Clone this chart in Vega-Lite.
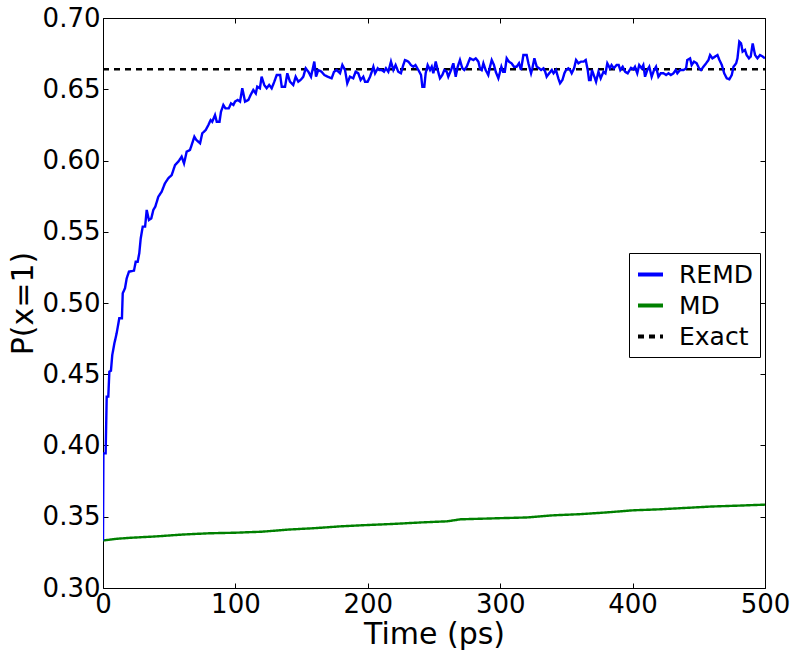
{
  "$schema": "https://vega.github.io/schema/vega-lite/v6.json",
  "width": 662,
  "height": 570,
  "autosize": "none",
  "padding": {"left": 103, "top": 18, "right": 35, "bottom": 69},
  "background": "white",
  "config": {
    "font": "DejaVu Sans",
    "view": {"stroke": "black", "strokeWidth": 1},
    "axis": {
      "domain": false,
      "grid": false,
      "tickColor": "black",
      "tickSize": -5,
      "tickWidth": 1,
      "labelColor": "black",
      "labelFont": "DejaVu Sans",
      "labelFontSize": 26,
      "labelPadding": 8,
      "labelOverlap": false,
      "labelFlush": false,
      "titleFont": "DejaVu Sans",
      "titleFontSize": 30,
      "titleFontWeight": "normal",
      "titleColor": "black"
    }
  },
  "data": {
    "values": [
      {"series": "Exact", "time": 0, "p": 0.664},
      {"series": "Exact", "time": 500, "p": 0.664},
      {"series": "MD", "time": 0, "p": 0.3333},
      {"series": "MD", "time": 10, "p": 0.3345},
      {"series": "MD", "time": 20, "p": 0.3352},
      {"series": "MD", "time": 40, "p": 0.3362},
      {"series": "MD", "time": 60, "p": 0.3375},
      {"series": "MD", "time": 80, "p": 0.3384},
      {"series": "MD", "time": 100, "p": 0.3388},
      {"series": "MD", "time": 120, "p": 0.3395},
      {"series": "MD", "time": 140, "p": 0.341},
      {"series": "MD", "time": 160, "p": 0.342},
      {"series": "MD", "time": 180, "p": 0.3433},
      {"series": "MD", "time": 200, "p": 0.3442},
      {"series": "MD", "time": 220, "p": 0.345},
      {"series": "MD", "time": 240, "p": 0.346},
      {"series": "MD", "time": 260, "p": 0.3468},
      {"series": "MD", "time": 270, "p": 0.3482},
      {"series": "MD", "time": 300, "p": 0.349},
      {"series": "MD", "time": 320, "p": 0.3495},
      {"series": "MD", "time": 340, "p": 0.351},
      {"series": "MD", "time": 360, "p": 0.3518},
      {"series": "MD", "time": 380, "p": 0.353},
      {"series": "MD", "time": 400, "p": 0.3545},
      {"series": "MD", "time": 420, "p": 0.3552},
      {"series": "MD", "time": 440, "p": 0.3562},
      {"series": "MD", "time": 460, "p": 0.3572},
      {"series": "MD", "time": 480, "p": 0.3578},
      {"series": "MD", "time": 500, "p": 0.3585},
      {"series": "REMD", "time": 0, "p": 0.3333},
      {"series": "REMD", "time": 0.3, "p": 0.3945},
      {"series": "REMD", "time": 2, "p": 0.3945},
      {"series": "REMD", "time": 2.8, "p": 0.4343},
      {"series": "REMD", "time": 4, "p": 0.4343},
      {"series": "REMD", "time": 4.8, "p": 0.4518},
      {"series": "REMD", "time": 6, "p": 0.4525},
      {"series": "REMD", "time": 7, "p": 0.4635},
      {"series": "REMD", "time": 8.6, "p": 0.4717},
      {"series": "REMD", "time": 10.3, "p": 0.4787},
      {"series": "REMD", "time": 12.3, "p": 0.4893},
      {"series": "REMD", "time": 14.3, "p": 0.4893},
      {"series": "REMD", "time": 14.9, "p": 0.5068},
      {"series": "REMD", "time": 16.6, "p": 0.5103},
      {"series": "REMD", "time": 17.9, "p": 0.5173},
      {"series": "REMD", "time": 19.6, "p": 0.522},
      {"series": "REMD", "time": 23.4, "p": 0.5227},
      {"series": "REMD", "time": 24.7, "p": 0.529},
      {"series": "REMD", "time": 26.2, "p": 0.529},
      {"series": "REMD", "time": 27.4, "p": 0.5349},
      {"series": "REMD", "time": 28.5, "p": 0.5454},
      {"series": "REMD", "time": 30, "p": 0.5536},
      {"series": "REMD", "time": 31.8, "p": 0.5536},
      {"series": "REMD", "time": 33, "p": 0.5653},
      {"series": "REMD", "time": 34.7, "p": 0.5582},
      {"series": "REMD", "time": 36.5, "p": 0.5594},
      {"series": "REMD", "time": 38, "p": 0.5653},
      {"series": "REMD", "time": 39.5, "p": 0.5676},
      {"series": "REMD", "time": 41.8, "p": 0.5746},
      {"series": "REMD", "time": 44.3, "p": 0.5781},
      {"series": "REMD", "time": 46.8, "p": 0.584},
      {"series": "REMD", "time": 49.3, "p": 0.5875},
      {"series": "REMD", "time": 51.9, "p": 0.5898},
      {"series": "REMD", "time": 54.4, "p": 0.5968},
      {"series": "REMD", "time": 56.9, "p": 0.5992},
      {"series": "REMD", "time": 59.4, "p": 0.6027},
      {"series": "REMD", "time": 61.2, "p": 0.598},
      {"series": "REMD", "time": 63.2, "p": 0.6062},
      {"series": "REMD", "time": 65.7, "p": 0.6074},
      {"series": "REMD", "time": 67, "p": 0.611},
      {"series": "REMD", "time": 69, "p": 0.6167},
      {"series": "REMD", "time": 70.5, "p": 0.6144},
      {"series": "REMD", "time": 73.3, "p": 0.6121},
      {"series": "REMD", "time": 75, "p": 0.6191},
      {"series": "REMD", "time": 77.6, "p": 0.6214},
      {"series": "REMD", "time": 79.6, "p": 0.6249},
      {"series": "REMD", "time": 81.3, "p": 0.6284},
      {"series": "REMD", "time": 82.5, "p": 0.6272},
      {"series": "REMD", "time": 84.6, "p": 0.6319},
      {"series": "REMD", "time": 85.9, "p": 0.6272},
      {"series": "REMD", "time": 88, "p": 0.6272},
      {"series": "REMD", "time": 89.1, "p": 0.6342},
      {"series": "REMD", "time": 90.9, "p": 0.6389},
      {"series": "REMD", "time": 92.5, "p": 0.6366},
      {"series": "REMD", "time": 95, "p": 0.6366},
      {"series": "REMD", "time": 96.7, "p": 0.6401},
      {"series": "REMD", "time": 98.5, "p": 0.639},
      {"series": "REMD", "time": 99.7, "p": 0.6413},
      {"series": "REMD", "time": 101.7, "p": 0.6425},
      {"series": "REMD", "time": 103.5, "p": 0.6413},
      {"series": "REMD", "time": 105.2, "p": 0.6507},
      {"series": "REMD", "time": 107.3, "p": 0.6413},
      {"series": "REMD", "time": 109.8, "p": 0.6425},
      {"series": "REMD", "time": 111.5, "p": 0.646},
      {"series": "REMD", "time": 113.5, "p": 0.6495},
      {"series": "REMD", "time": 115.4, "p": 0.6471},
      {"series": "REMD", "time": 116.5, "p": 0.6518},
      {"series": "REMD", "time": 118.5, "p": 0.6507},
      {"series": "REMD", "time": 119.8, "p": 0.6588},
      {"series": "REMD", "time": 121.8, "p": 0.653},
      {"series": "REMD", "time": 123.6, "p": 0.6507},
      {"series": "REMD", "time": 125.5, "p": 0.653},
      {"series": "REMD", "time": 127.4, "p": 0.6507},
      {"series": "REMD", "time": 129.4, "p": 0.6553},
      {"series": "REMD", "time": 131.2, "p": 0.66},
      {"series": "REMD", "time": 133.8, "p": 0.66},
      {"series": "REMD", "time": 135, "p": 0.6518},
      {"series": "REMD", "time": 137.5, "p": 0.6518},
      {"series": "REMD", "time": 139.2, "p": 0.6612},
      {"series": "REMD", "time": 141.2, "p": 0.6553},
      {"series": "REMD", "time": 143.7, "p": 0.653},
      {"series": "REMD", "time": 145.5, "p": 0.6588},
      {"series": "REMD", "time": 147.5, "p": 0.6553},
      {"series": "REMD", "time": 149.2, "p": 0.6565},
      {"series": "REMD", "time": 151.3, "p": 0.6588},
      {"series": "REMD", "time": 153.1, "p": 0.6647},
      {"series": "REMD", "time": 155.1, "p": 0.6623},
      {"series": "REMD", "time": 157.1, "p": 0.6588},
      {"series": "REMD", "time": 159.6, "p": 0.6694},
      {"series": "REMD", "time": 160.9, "p": 0.6588},
      {"series": "REMD", "time": 162.6, "p": 0.6635},
      {"series": "REMD", "time": 165.1, "p": 0.6623},
      {"series": "REMD", "time": 167.2, "p": 0.66},
      {"series": "REMD", "time": 169.7, "p": 0.6588},
      {"series": "REMD", "time": 172.7, "p": 0.6577},
      {"series": "REMD", "time": 174.5, "p": 0.6623},
      {"series": "REMD", "time": 176.5, "p": 0.6635},
      {"series": "REMD", "time": 179, "p": 0.6612},
      {"series": "REMD", "time": 180.8, "p": 0.667},
      {"series": "REMD", "time": 182.8, "p": 0.6635},
      {"series": "REMD", "time": 184.5, "p": 0.6542},
      {"series": "REMD", "time": 186.5, "p": 0.6588},
      {"series": "REMD", "time": 189, "p": 0.6577},
      {"series": "REMD", "time": 190.8, "p": 0.6623},
      {"series": "REMD", "time": 192.8, "p": 0.6612},
      {"series": "REMD", "time": 194.6, "p": 0.6565},
      {"series": "REMD", "time": 196.6, "p": 0.6588},
      {"series": "REMD", "time": 197.9, "p": 0.6553},
      {"series": "REMD", "time": 199.9, "p": 0.6553},
      {"series": "REMD", "time": 201.7, "p": 0.6588},
      {"series": "REMD", "time": 203, "p": 0.6623},
      {"series": "REMD", "time": 204.2, "p": 0.6658},
      {"series": "REMD", "time": 205.5, "p": 0.6612},
      {"series": "REMD", "time": 207.5, "p": 0.6647},
      {"series": "REMD", "time": 208.8, "p": 0.6635},
      {"series": "REMD", "time": 210.5, "p": 0.6635},
      {"series": "REMD", "time": 212.2, "p": 0.6623},
      {"series": "REMD", "time": 213.7, "p": 0.6647},
      {"series": "REMD", "time": 215.5, "p": 0.6623},
      {"series": "REMD", "time": 217.5, "p": 0.6694},
      {"series": "REMD", "time": 219.3, "p": 0.6635},
      {"series": "REMD", "time": 221, "p": 0.667},
      {"series": "REMD", "time": 223, "p": 0.6623},
      {"series": "REMD", "time": 225, "p": 0.6612},
      {"series": "REMD", "time": 226.8, "p": 0.667},
      {"series": "REMD", "time": 228.1, "p": 0.6705},
      {"series": "REMD", "time": 230.6, "p": 0.6694},
      {"series": "REMD", "time": 232.6, "p": 0.667},
      {"series": "REMD", "time": 234.4, "p": 0.6658},
      {"series": "REMD", "time": 236, "p": 0.667},
      {"series": "REMD", "time": 237.4, "p": 0.6647},
      {"series": "REMD", "time": 238.9, "p": 0.6623},
      {"series": "REMD", "time": 240.2, "p": 0.66},
      {"series": "REMD", "time": 241.2, "p": 0.6518},
      {"series": "REMD", "time": 242.7, "p": 0.6518},
      {"series": "REMD", "time": 243.7, "p": 0.6612},
      {"series": "REMD", "time": 245.2, "p": 0.667},
      {"series": "REMD", "time": 247, "p": 0.6635},
      {"series": "REMD", "time": 248.3, "p": 0.6658},
      {"series": "REMD", "time": 249.5, "p": 0.6612},
      {"series": "REMD", "time": 251.3, "p": 0.6694},
      {"series": "REMD", "time": 252.8, "p": 0.6635},
      {"series": "REMD", "time": 254.5, "p": 0.6577},
      {"series": "REMD", "time": 256.3, "p": 0.66},
      {"series": "REMD", "time": 257.8, "p": 0.6635},
      {"series": "REMD", "time": 259.6, "p": 0.6623},
      {"series": "REMD", "time": 260.8, "p": 0.6588},
      {"series": "REMD", "time": 262.9, "p": 0.6635},
      {"series": "REMD", "time": 264.6, "p": 0.6682},
      {"series": "REMD", "time": 266.4, "p": 0.6588},
      {"series": "REMD", "time": 267.9, "p": 0.6658},
      {"series": "REMD", "time": 269.6, "p": 0.6705},
      {"series": "REMD", "time": 271.4, "p": 0.6647},
      {"series": "REMD", "time": 272.9, "p": 0.6635},
      {"series": "REMD", "time": 274.7, "p": 0.6658},
      {"series": "REMD", "time": 277.2, "p": 0.6717},
      {"series": "REMD", "time": 279.7, "p": 0.6705},
      {"series": "REMD", "time": 281.5, "p": 0.6717},
      {"series": "REMD", "time": 283.5, "p": 0.6694},
      {"series": "REMD", "time": 284.7, "p": 0.6647},
      {"series": "REMD", "time": 286, "p": 0.6635},
      {"series": "REMD", "time": 287.3, "p": 0.6682},
      {"series": "REMD", "time": 289, "p": 0.6635},
      {"series": "REMD", "time": 291, "p": 0.66},
      {"series": "REMD", "time": 292.3, "p": 0.6658},
      {"series": "REMD", "time": 293.6, "p": 0.6705},
      {"series": "REMD", "time": 295.3, "p": 0.667},
      {"series": "REMD", "time": 296.6, "p": 0.6623},
      {"series": "REMD", "time": 298.6, "p": 0.6577},
      {"series": "REMD", "time": 300.9, "p": 0.6658},
      {"series": "REMD", "time": 302.2, "p": 0.6623},
      {"series": "REMD", "time": 303.5, "p": 0.6623},
      {"series": "REMD", "time": 304.9, "p": 0.6717},
      {"series": "REMD", "time": 306.6, "p": 0.6694},
      {"series": "REMD", "time": 308.6, "p": 0.6682},
      {"series": "REMD", "time": 310.4, "p": 0.6658},
      {"series": "REMD", "time": 312.4, "p": 0.6658},
      {"series": "REMD", "time": 314.2, "p": 0.6682},
      {"series": "REMD", "time": 315.7, "p": 0.6635},
      {"series": "REMD", "time": 317.5, "p": 0.674},
      {"series": "REMD", "time": 320, "p": 0.674},
      {"series": "REMD", "time": 321.3, "p": 0.6682},
      {"series": "REMD", "time": 323.3, "p": 0.6612},
      {"series": "REMD", "time": 324.3, "p": 0.6647},
      {"series": "REMD", "time": 325.8, "p": 0.6717},
      {"series": "REMD", "time": 327.6, "p": 0.6658},
      {"series": "REMD", "time": 329.4, "p": 0.6647},
      {"series": "REMD", "time": 330.9, "p": 0.6635},
      {"series": "REMD", "time": 332.7, "p": 0.6647},
      {"series": "REMD", "time": 334, "p": 0.6623},
      {"series": "REMD", "time": 335.1, "p": 0.6588},
      {"series": "REMD", "time": 337, "p": 0.6612},
      {"series": "REMD", "time": 339, "p": 0.6635},
      {"series": "REMD", "time": 340.3, "p": 0.6612},
      {"series": "REMD", "time": 342.1, "p": 0.6635},
      {"series": "REMD", "time": 343.9, "p": 0.6577},
      {"series": "REMD", "time": 345.2, "p": 0.6542},
      {"series": "REMD", "time": 347, "p": 0.6565},
      {"series": "REMD", "time": 348.5, "p": 0.6612},
      {"series": "REMD", "time": 349.7, "p": 0.6635},
      {"series": "REMD", "time": 351.5, "p": 0.6647},
      {"series": "REMD", "time": 352.8, "p": 0.6635},
      {"series": "REMD", "time": 354, "p": 0.6612},
      {"series": "REMD", "time": 355.8, "p": 0.6647},
      {"series": "REMD", "time": 357.3, "p": 0.6705},
      {"series": "REMD", "time": 359.1, "p": 0.6682},
      {"series": "REMD", "time": 361.1, "p": 0.6694},
      {"series": "REMD", "time": 363, "p": 0.6694},
      {"series": "REMD", "time": 364.6, "p": 0.6705},
      {"series": "REMD", "time": 366.1, "p": 0.6635},
      {"series": "REMD", "time": 367.1, "p": 0.6565},
      {"series": "REMD", "time": 368.3, "p": 0.6565},
      {"series": "REMD", "time": 369.3, "p": 0.6635},
      {"series": "REMD", "time": 371.1, "p": 0.6588},
      {"series": "REMD", "time": 372.4, "p": 0.6553},
      {"series": "REMD", "time": 374.2, "p": 0.6623},
      {"series": "REMD", "time": 375.9, "p": 0.6577},
      {"series": "REMD", "time": 378, "p": 0.6623},
      {"series": "REMD", "time": 379.5, "p": 0.6612},
      {"series": "REMD", "time": 380.9, "p": 0.6682},
      {"series": "REMD", "time": 382.9, "p": 0.6647},
      {"series": "REMD", "time": 384.1, "p": 0.667},
      {"series": "REMD", "time": 385.9, "p": 0.6647},
      {"series": "REMD", "time": 387.9, "p": 0.667},
      {"series": "REMD", "time": 389.5, "p": 0.667},
      {"series": "REMD", "time": 390.7, "p": 0.6635},
      {"series": "REMD", "time": 392.5, "p": 0.6658},
      {"series": "REMD", "time": 394.3, "p": 0.6623},
      {"series": "REMD", "time": 396.3, "p": 0.6612},
      {"series": "REMD", "time": 398.8, "p": 0.665},
      {"series": "REMD", "time": 400.6, "p": 0.664},
      {"series": "REMD", "time": 401.8, "p": 0.6658},
      {"series": "REMD", "time": 403.5, "p": 0.6612},
      {"series": "REMD", "time": 405, "p": 0.667},
      {"series": "REMD", "time": 406.8, "p": 0.6647},
      {"series": "REMD", "time": 408.1, "p": 0.667},
      {"series": "REMD", "time": 409.4, "p": 0.6588},
      {"series": "REMD", "time": 411.1, "p": 0.6635},
      {"series": "REMD", "time": 412.6, "p": 0.6658},
      {"series": "REMD", "time": 414.4, "p": 0.6588},
      {"series": "REMD", "time": 416.2, "p": 0.6635},
      {"series": "REMD", "time": 417.7, "p": 0.6658},
      {"series": "REMD", "time": 419.5, "p": 0.6588},
      {"series": "REMD", "time": 421.3, "p": 0.6612},
      {"series": "REMD", "time": 423.3, "p": 0.6612},
      {"series": "REMD", "time": 425.3, "p": 0.66},
      {"series": "REMD", "time": 427.1, "p": 0.6612},
      {"series": "REMD", "time": 428.9, "p": 0.66},
      {"series": "REMD", "time": 430.8, "p": 0.6612},
      {"series": "REMD", "time": 432.6, "p": 0.6635},
      {"series": "REMD", "time": 433.8, "p": 0.6612},
      {"series": "REMD", "time": 435.9, "p": 0.6635},
      {"series": "REMD", "time": 438.4, "p": 0.6635},
      {"series": "REMD", "time": 440.4, "p": 0.6647},
      {"series": "REMD", "time": 441.3, "p": 0.6705},
      {"series": "REMD", "time": 443.4, "p": 0.6717},
      {"series": "REMD", "time": 444.6, "p": 0.667},
      {"series": "REMD", "time": 446.4, "p": 0.6694},
      {"series": "REMD", "time": 448.4, "p": 0.6682},
      {"series": "REMD", "time": 450.2, "p": 0.6647},
      {"series": "REMD", "time": 451.7, "p": 0.6635},
      {"series": "REMD", "time": 453.5, "p": 0.6658},
      {"series": "REMD", "time": 455.5, "p": 0.6682},
      {"series": "REMD", "time": 457.3, "p": 0.6705},
      {"series": "REMD", "time": 458.5, "p": 0.674},
      {"series": "REMD", "time": 460.3, "p": 0.6717},
      {"series": "REMD", "time": 462.3, "p": 0.6729},
      {"series": "REMD", "time": 464.1, "p": 0.674},
      {"series": "REMD", "time": 465.6, "p": 0.6705},
      {"series": "REMD", "time": 467.4, "p": 0.667},
      {"series": "REMD", "time": 469.2, "p": 0.6612},
      {"series": "REMD", "time": 471.1, "p": 0.6577},
      {"series": "REMD", "time": 473.1, "p": 0.657},
      {"series": "REMD", "time": 474.9, "p": 0.66},
      {"series": "REMD", "time": 476.2, "p": 0.6658},
      {"series": "REMD", "time": 478.2, "p": 0.6682},
      {"series": "REMD", "time": 479.2, "p": 0.6717},
      {"series": "REMD", "time": 480.6, "p": 0.6834},
      {"series": "REMD", "time": 481.9, "p": 0.6822},
      {"series": "REMD", "time": 483.1, "p": 0.6764},
      {"series": "REMD", "time": 484.9, "p": 0.6776},
      {"series": "REMD", "time": 486.1, "p": 0.674},
      {"series": "REMD", "time": 487.9, "p": 0.6717},
      {"series": "REMD", "time": 489.2, "p": 0.6729},
      {"series": "REMD", "time": 490.7, "p": 0.6822},
      {"series": "REMD", "time": 492.5, "p": 0.674},
      {"series": "REMD", "time": 494.3, "p": 0.6717},
      {"series": "REMD", "time": 496.2, "p": 0.674},
      {"series": "REMD", "time": 498.3, "p": 0.6729},
      {"series": "REMD", "time": 500, "p": 0.6717}
    ]
  },
  "layer": [
    {
      "mark": {"type": "line", "strokeWidth": 2.4, "clip": true},
      "encoding": {
        "x": {
          "field": "time",
          "type": "quantitative",
          "scale": {"domain": [0, 500], "nice": false, "zero": false},
          "axis": {"title": "Time (ps)", "values": [0, 100, 200, 300, 400, 500], "format": "d", "titlePadding": 2}
        },
        "y": {
          "field": "p",
          "type": "quantitative",
          "scale": {"domain": [0.3, 0.7], "nice": false, "zero": false},
          "axis": {"title": "P(x=1)", "values": [0.3, 0.35, 0.4, 0.45, 0.5, 0.55, 0.6, 0.65, 0.7], "format": ".2f", "titlePadding": 4}
        },
        "color": {
          "field": "series",
          "type": "nominal",
          "scale": {"domain": ["REMD", "MD", "Exact"], "range": ["#0000ff", "#008000", "#000000"]},
          "legend": {
            "title": null,
            "orient": "none",
            "legendX": 526,
            "legendY": 235,
            "strokeColor": "black",
            "fillColor": "white",
            "padding": 7,
            "symbolType": "stroke",
            "symbolStrokeWidth": 4,
            "symbolSize": 625,
            "labelFont": "DejaVu Sans",
            "labelFontSize": 25,
            "labelColor": "black",
            "labelOffset": 14,
            "rowPadding": 3,
            "cornerRadius": 0
          }
        },
        "strokeDash": {
          "field": "series",
          "type": "nominal",
          "scale": {"domain": ["REMD", "MD", "Exact"], "range": [[1, 0], [1, 0], [6, 5]]},
          "legend": null
        }
      }
    },
    {
      "mark": {"type": "point", "opacity": 0},
      "encoding": {
        "x": {
          "field": "time",
          "type": "quantitative",
          "scale": {"domain": [0, 500], "nice": false, "zero": false},
          "axis": {"orient": "top", "title": null, "labels": false, "values": [0, 100, 200, 300, 400, 500]}
        },
        "y": {
          "field": "p",
          "type": "quantitative",
          "scale": {"domain": [0.3, 0.7], "nice": false, "zero": false},
          "axis": {"orient": "right", "title": null, "labels": false, "values": [0.3, 0.35, 0.4, 0.45, 0.5, 0.55, 0.6, 0.65, 0.7]}
        }
      }
    }
  ],
  "resolve": {"axis": {"x": "independent", "y": "independent"}}
}
